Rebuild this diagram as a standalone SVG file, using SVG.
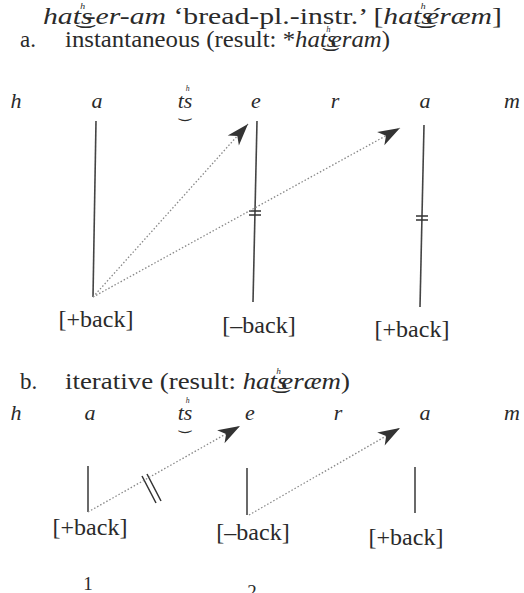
<svg xmlns="http://www.w3.org/2000/svg" width="524" height="593" viewBox="0 0 524 593">
<defs>
<style>
text{font-family:"Liberation Serif","DejaVu Serif",serif;fill:#2a2a2a;}
.t{font-size:23px;}
.it{font-style:italic;}
.seg{font-size:22px;font-style:italic;text-anchor:middle;}
.lab{font-size:24px;text-anchor:middle;}
.num{font-size:19px;text-anchor:middle;}
.sup{font-size:13px;}
.tie{font-family:"DejaVu Sans",sans-serif;font-size:15px;text-anchor:middle;}
.vl{stroke:#444;stroke-width:1.6;fill:none;}
.dot{stroke:#888;stroke-width:1.3;stroke-dasharray:1.5 2;fill:none;}
.bar{stroke:#333;stroke-width:1.5;fill:none;}
</style>
<marker id="ah" markerWidth="26" markerHeight="16" refX="24" refY="8" orient="auto" markerUnits="userSpaceOnUse">
<path d="M24,8 L2,0.5 L8,8 L2,15.5 Z" fill="#333"/>
</marker>
</defs>
<rect width="524" height="593" fill="#fff"/>
<g id="title">
<text class="t" x="43" y="24" textLength="459" lengthAdjust="spacingAndGlyphs"><tspan class="it">hat͜s</tspan><tspan class="sup it" dx="-10" dy="-12">ʰ</tspan><tspan class="it" dx="1" dy="12">-er-am</tspan> ‘bread-pl.-instr.’ [<tspan class="it">hat͜s</tspan><tspan class="sup it" dx="-10" dy="-12">ʰ</tspan><tspan class="it" dx="1" dy="12">éræm</tspan>]</text>
</g>
<g id="heading-a">
<text class="t" x="20" y="47">a.</text>
<text class="t" x="65" y="47" textLength="325" lengthAdjust="spacingAndGlyphs">instantaneous (result: *<tspan class="it">hat͜s</tspan><tspan class="sup it" dx="-10" dy="-12">ʰ</tspan><tspan class="it" dx="1" dy="12">eram</tspan>)</text>
</g>
<g id="row-a">
<text class="seg" x="16" y="108">h</text>
<text class="seg" x="97" y="108">a</text>
<text class="seg" x="185" y="108">ts</text>
<text class="seg sup" x="187" y="94" style="font-size:13px">ʰ</text>
<text class="tie" x="185" y="117">‿</text>
<text class="seg" x="256" y="108">e</text>
<text class="seg" x="335" y="108">r</text>
<text class="seg" x="425" y="108">a</text>
<text class="seg" x="512" y="108">m</text>
</g>
<g id="tier-a">
<path class="vl" d="M96,121 L93,297"/>
<path class="vl" d="M257,121 L253,302"/>
<path class="vl" d="M424,125 L420,307"/>
<path class="bar" d="M249,211 L261,211 M249,215 L261,215"/>
<path class="bar" d="M416,216 L428,216 M416,220 L428,220"/>
</g>
<g id="connectors-a">
<path class="dot" d="M93,297 L248,124" marker-end="url(#ah)"/>
<path class="dot" d="M93,297 L400,128" marker-end="url(#ah)"/>
</g>
<g id="labels-a">
<text class="lab" x="96" y="327">[+back]</text>
<text class="lab" x="259" y="333">[–back]</text>
<text class="lab" x="412" y="337">[+back]</text>
</g>
<g id="heading-b">
<text class="t" x="20" y="389">b.</text>
<text class="t" x="65" y="389" textLength="285" lengthAdjust="spacingAndGlyphs">iterative (result: <tspan class="it">hat͜s</tspan><tspan class="sup it" dx="-10" dy="-12">ʰ</tspan><tspan class="it" dx="1" dy="12">eræm</tspan>)</text>
</g>
<g id="row-b">
<text class="seg" x="16" y="420">h</text>
<text class="seg" x="90" y="420">a</text>
<text class="seg" x="185" y="420">ts</text>
<text class="seg sup" x="187" y="406" style="font-size:13px">ʰ</text>
<text class="tie" x="185" y="429">‿</text>
<text class="seg" x="250" y="420">e</text>
<text class="seg" x="338" y="420">r</text>
<text class="seg" x="425" y="420">a</text>
<text class="seg" x="512" y="420">m</text>
</g>
<g id="tier-b">
<path class="vl" d="M88,466 L88,512"/>
<path class="vl" d="M247,468 L247,515"/>
<path class="vl" d="M415,467 L415,513"/>
<path class="bar" d="M142,476 L156,503 M147,474 L161,501"/>
</g>
<g id="connectors-b">
<path class="dot" d="M88,512 L240,426" marker-end="url(#ah)"/>
<path class="dot" d="M249,515 L400,428" marker-end="url(#ah)"/>
</g>
<g id="labels-b">
<text class="lab" x="90" y="535">[+back]</text>
<text class="lab" x="253" y="540">[–back]</text>
<text class="lab" x="406" y="545">[+back]</text>
<text class="num" x="88" y="590">1</text>
<text class="num" x="252" y="598">2</text>
</g>
</svg>
